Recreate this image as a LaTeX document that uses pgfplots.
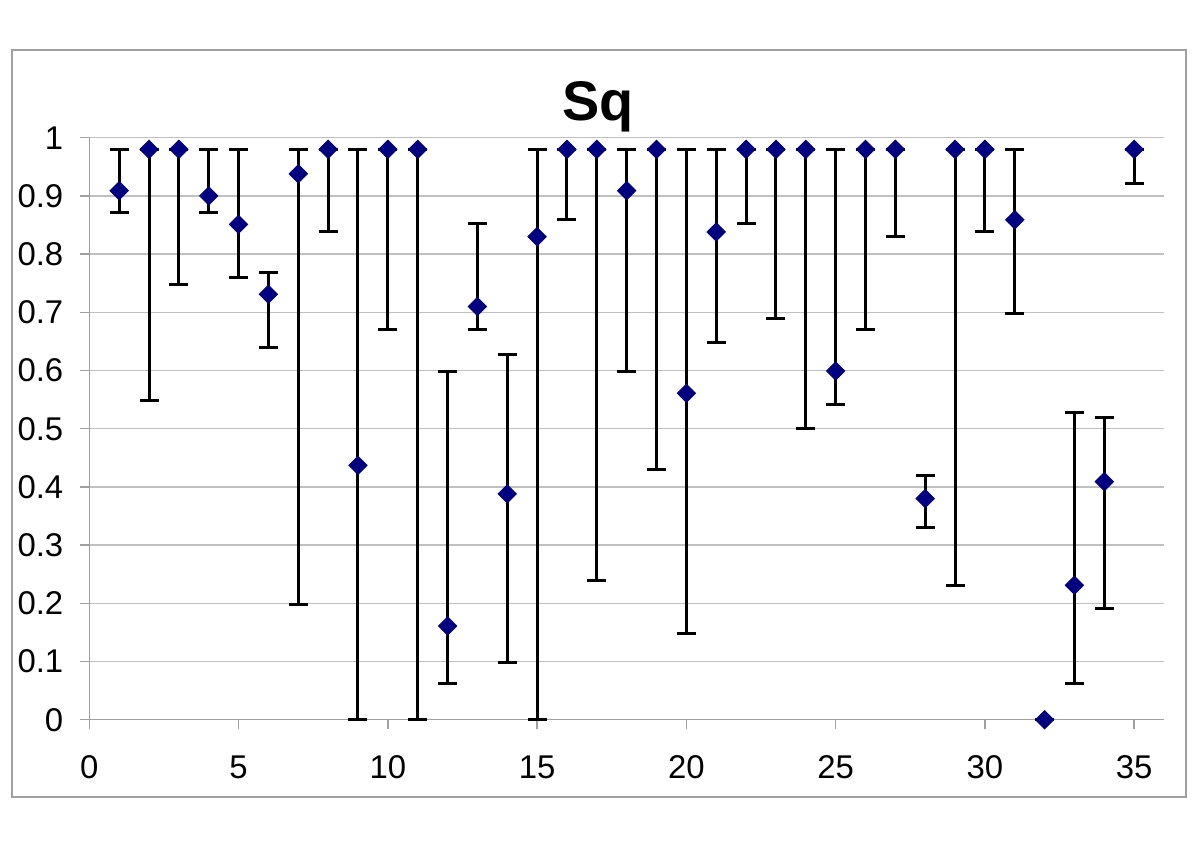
\documentclass[border=0pt]{standalone}
\usepackage{fontspec}
\setmainfont{Liberation Sans}
\usepackage{pgfplots}
\pgfplotsset{compat=1.18}
\usepackage{pgfplotstable}
\definecolor{navyx}{RGB}{0,0,128}
\definecolor{gridgray}{RGB}{192,192,192}
\definecolor{axisgray}{RGB}{160,160,160}

\pgfplotstableread{
x y hi lo
1 0.909 0.98 0.872
2 0.98 0.98 0.549
3 0.98 0.98 0.747
4 0.900 0.98 0.872
5 0.851 0.98 0.760
6 0.731 0.768 0.640
7 0.938 0.98 0.198
8 0.98 0.98 0.839
9 0.437 0.98 0.0
10 0.98 0.98 0.670
11 0.98 0.98 0.0
12 0.161 0.599 0.062
13 0.710 0.852 0.670
14 0.388 0.627 0.099
15 0.830 0.98 0.0
16 0.98 0.98 0.859
17 0.98 0.98 0.239
18 0.909 0.98 0.599
19 0.98 0.98 0.430
20 0.561 0.98 0.148
21 0.838 0.98 0.648
22 0.98 0.98 0.852
23 0.98 0.98 0.689
24 0.98 0.98 0.501
25 0.599 0.98 0.541
26 0.98 0.98 0.670
27 0.98 0.98 0.830
28 0.380 0.420 0.330
29 0.98 0.98 0.231
30 0.98 0.98 0.839
31 0.859 0.98 0.698
32 0.0 0.0 0.0
33 0.231 0.528 0.062
34 0.409 0.520 0.191
35 0.98 0.98 0.921
}\data

\begin{document}
\begin{tikzpicture}[x=1bp,y=1bp]
\path[use as bounding box] (0,0) rectangle (600,424);
\draw[axisgray, line width=0.75bp] (6,25.5) rectangle (593,399);
\node[font=\fontsize{28}{30}\selectfont\bfseries, anchor=base, inner sep=0pt] at (299,364) {Sq};
\begin{axis}[
  at={(44.65bp,64.15bp)}, anchor=south west,
  width=537.35bp, height=291bp, scale only axis,
  xmin=0, xmax=36, ymin=0, ymax=1,
  axis lines*=left,
  axis line style={axisgray, line width=0.75bp},
  ymajorgrids, grid style={gridgray, line width=0.75bp},
  xtick={0,5,10,15,20,25,30,35},
  ytick={0,0.1,0.2,0.3,0.4,0.5,0.6,0.7,0.8,0.9,1},
  tick align=outside, major tick length=4.5bp,
  tick style={axisgray, line width=0.75bp},
  tick label style={font=\fontsize{16.5}{18}\selectfont},
  yticklabel style={anchor=east, xshift=-5bp},
  xticklabel style={anchor=north, yshift=-10bp},
  /pgf/number format/assume math mode=true,
  clip=false,
]
\addplot[only marks, line width=1.5bp, mark=square*, mark size=3.2bp,
  mark options={rotate=45, fill=navyx, draw=navyx, line width=0.5bp},
  error bars/.cd, y dir=both, y explicit,
  error mark options={rotate=90, mark size=4.75bp, line width=1.5bp, black},
  error bar style={line width=1.5bp, black}]
  table[x=x, y=y, y error plus expr=\thisrow{hi}-\thisrow{y}, y error minus expr=\thisrow{y}-\thisrow{lo}] \data;
\end{axis}
\end{tikzpicture}
\end{document}
